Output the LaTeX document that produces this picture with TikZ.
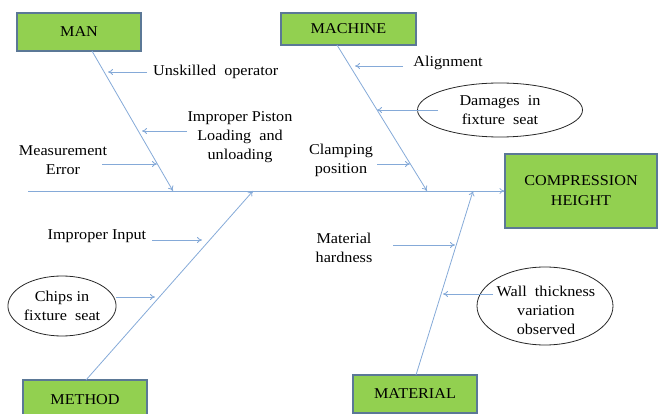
\documentclass[tikz,border=0pt]{standalone}
\usepackage{fontspec}
\setmainfont[FakeStretch=1.08]{Liberation Serif}
\usetikzlibrary{shapes.geometric,arrows.meta}
\definecolor{boxgreen}{HTML}{92D050}
\definecolor{boxedge}{HTML}{5B7896}
\definecolor{bone}{HTML}{85AAD8}
\begin{document}
\begin{tikzpicture}[x=1pt,y=-1pt,
  catbox/.style={draw=boxedge,line width=1.2pt,fill=boxgreen,inner sep=0pt,font=\fontsize{15}{18}\selectfont},
  lbl/.style={inner sep=0pt,align=center,font=\fontsize{15}{19}\selectfont},
  oval/.style={ellipse,draw=black!85,line width=0.8pt,inner sep=0pt,align=center,font=\fontsize{15}{19}\selectfont},
  arr/.style={draw=bone,line width=0.8pt,-{To[length=5pt,width=6pt]}}]
\useasboundingbox (0,0) rectangle (662,414);
% category boxes
\node[catbox,minimum width=124pt,minimum height=38pt] (man) at (79,32) {MAN};
\node[catbox,minimum width=135pt,minimum height=32pt] (machine) at (348.5,29) {MACHINE};
\node[catbox,minimum width=152pt,minimum height=74pt,align=center,font=\fontsize{15}{20}\selectfont] (effect) at (581,191) {COMPRESSION\\HEIGHT};
\node[catbox,minimum width=124pt,minimum height=40pt] (method) at (85,400) {METHOD};
\node[catbox,minimum width=124pt,minimum height=38pt] (material) at (415,394) {MATERIAL};
% spine
\coordinate (tail) at (28,191);
\draw[arr] (tail) -- (effect.west);
% bones
\coordinate (manend) at (173,191);
\coordinate (macend) at (427,191);
\coordinate (metend) at (253,191);
\coordinate (matend) at (473,191);
\coordinate (mans) at (92,51);
\coordinate (macs) at (337,45);
\coordinate (mets) at (86,380);
\coordinate (mats) at (416,375);
\draw[arr] (mans) -- (manend);
\draw[arr] (macs) -- (macend);
\draw[arr] (mets) -- (metend);
\draw[arr] (mats) -- (matend);
% MAN causes
\node[lbl,anchor=west] (unsk) at (153,72) {Unskilled\ \ operator};
\coordinate (unskt) at (108,72);
\draw[arr] (unsk.west) ++(-6,0) coordinate (unsks) -- (unskt);
\node[lbl] (piston) at (240,137) {Improper Piston\\Loading\ \ and\\unloading};
\coordinate (pistons) at (187,131);
\coordinate (pistont) at (142,131);
\draw[arr] (pistons) -- (pistont);
\node[lbl] (meas) at (63,160) {Measurement\\Error};
\coordinate (meass) at (102,164);
\coordinate (meast) at (157,164);
\draw[arr] (meass) -- (meast);
% MACHINE causes
\node[lbl] (align) at (448,63) {Alignment};
\coordinate (aligns) at (403,66);
\coordinate (alignt) at (355,66);
\draw[arr] (aligns) -- (alignt);
\node[oval,minimum width=165pt,minimum height=54pt] (damage) at (500,110) {Damages\ \ in\\fixture\ \ seat};
\coordinate (damages) at (438,110);
\coordinate (damaget) at (377,110);
\draw[arr] (damages) -- (damaget);
\node[lbl] (clamp) at (341,160) {Clamping\\position};
\coordinate (clamps) at (377,164);
\coordinate (clampt) at (410,164);
\draw[arr] (clamps) -- (clampt);
% METHOD causes
\node[lbl] (input) at (97,236) {Improper Input};
\coordinate (inputs) at (152,240);
\coordinate (inputt) at (202,240);
\draw[arr] (inputs) -- (inputt);
\node[oval,minimum width=101pt,minimum height=60pt] (chips) at (62,306) {Chips in\\fixture\ \ seat};
\coordinate (chipst) at (155,297);
\draw[arr] (chips.east |- chipst) -- (chipst);
% MATERIAL causes
\node[lbl] (hard) at (344,248) {Material\\hardness};
\coordinate (hards) at (393,245);
\coordinate (hardt) at (455,245);
\draw[arr] (hards) -- (hardt);
\node[oval,minimum width=136pt,minimum height=78pt] (wall) at (545,306) {};
\node[lbl] (walltxt) at (546,310) {Wall\ \ thickness\\variation\\observed};
\coordinate (walls) at (493,294);
\coordinate (wallt) at (443,294);
\draw[arr] (walls) -- (wallt);
\end{tikzpicture}
\end{document}
